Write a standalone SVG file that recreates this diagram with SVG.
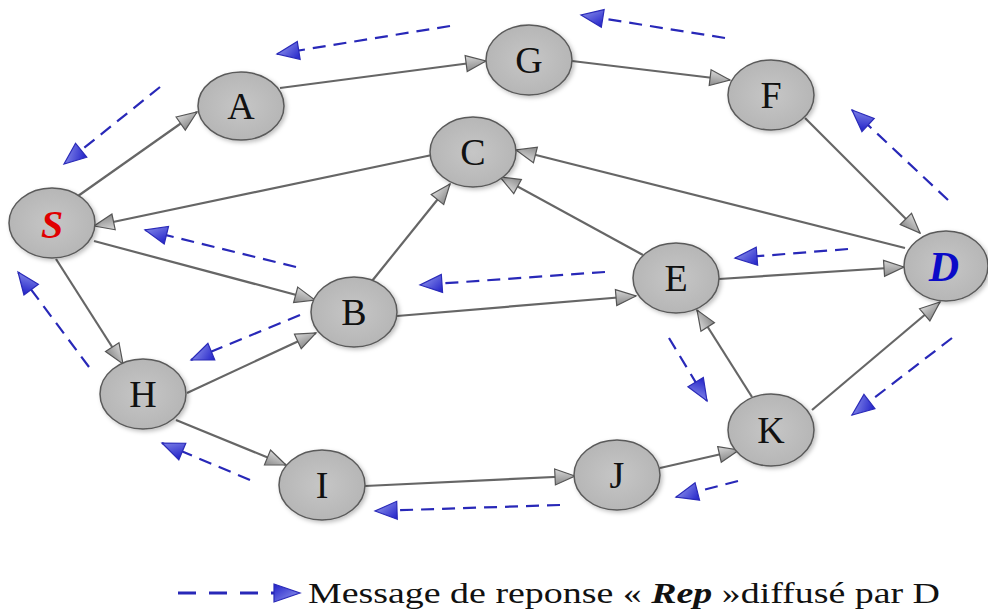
<svg xmlns="http://www.w3.org/2000/svg" width="988" height="613" viewBox="0 0 988 613">
<style>
.node ellipse{fill:url(#ng);stroke:#5a5a5a;stroke-width:1.5;filter:url(#sh)}
.node text{font-family:"Liberation Serif","Times New Roman",serif;font-size:38px;fill:#111;text-anchor:middle}
.edge{stroke:#666;stroke-width:2.2;fill:none;marker-end:url(#ag)}
.msg{stroke:#2828b8;stroke-width:2.2;stroke-dasharray:13 8;fill:none;marker-end:url(#ab)}
.legend{font-family:"Liberation Serif","Times New Roman",serif;font-size:30px;fill:#111}
</style>
<defs>
<radialGradient id="ng" cx="0.5" cy="0.5" r="0.6">
<stop offset="0" stop-color="#c6c6c6"/><stop offset="1" stop-color="#b3b3b3"/>
</radialGradient>
<linearGradient id="gg" x1="0" y1="0" x2="0" y2="1">
<stop offset="0" stop-color="#d8d8d8"/><stop offset="1" stop-color="#8a8a8a"/>
</linearGradient>
<linearGradient id="bg" x1="0" y1="0" x2="1" y2="1">
<stop offset="0" stop-color="#2020c8"/><stop offset="1" stop-color="#9aa0f0"/>
</linearGradient>
<filter id="sh" x="-20%" y="-20%" width="150%" height="150%">
<feDropShadow dx="2" dy="2" stdDeviation="2" flood-color="#000" flood-opacity="0.25"/>
</filter>
<marker id="ag" markerUnits="userSpaceOnUse" markerWidth="24" markerHeight="20" viewBox="0 0 24 20" refX="22" refY="10" orient="auto">
<path d="M2,2 L22,10 L2,18 Z" fill="url(#gg)" stroke="#555" stroke-width="1.2"/>
</marker>
<marker id="ab" markerUnits="userSpaceOnUse" markerWidth="26" markerHeight="22" viewBox="0 0 26 22" refX="24" refY="11" orient="auto">
<path d="M2,2 L24,11 L2,20 Z" fill="url(#bg)" stroke="#2a2ab8" stroke-width="1.2"/>
</marker>
<marker id="abl" markerUnits="userSpaceOnUse" markerWidth="30" markerHeight="24" viewBox="0 0 30 24" refX="28" refY="12" orient="auto">
<path d="M2,3 L28,12 L2,21 Z" fill="url(#bg)" stroke="#2a2ab8" stroke-width="1.2"/>
</marker>
</defs>
<rect width="988" height="613" fill="#fff"/>
<g id="connectors">
<line class="edge" x1="78" y1="196" x2="197" y2="112"/>
<line class="edge" x1="280" y1="88" x2="486" y2="61"/>
<line class="edge" x1="572" y1="61" x2="730" y2="80"/>
<line class="edge" x1="805" y1="118" x2="920" y2="233"/>
<line class="edge" x1="905" y1="248" x2="516" y2="150"/>
<line class="edge" x1="432" y1="155" x2="94" y2="226"/>
<line class="edge" x1="94" y1="241" x2="315" y2="300"/>
<line class="edge" x1="372" y1="281" x2="450" y2="184"/>
<line class="edge" x1="397" y1="316" x2="636" y2="296"/>
<line class="edge" x1="719" y1="279" x2="904" y2="267"/>
<line class="edge" x1="643" y1="255" x2="500" y2="177"/>
<line class="edge" x1="56" y1="259" x2="123" y2="364"/>
<line class="edge" x1="187" y1="393" x2="316" y2="333"/>
<line class="edge" x1="176" y1="420" x2="286" y2="465"/>
<line class="edge" x1="365" y1="486" x2="575" y2="476"/>
<line class="edge" x1="660" y1="468" x2="739" y2="450"/>
<line class="edge" x1="752" y1="397" x2="697" y2="310"/>
<line class="edge" x1="812" y1="410" x2="940" y2="302"/>
</g>
<g id="messages">
<line class="msg" x1="450" y1="26" x2="277" y2="54"/>
<line class="msg" x1="725" y1="38" x2="581" y2="15"/>
<line class="msg" x1="160" y1="87" x2="64" y2="164"/>
<line class="msg" x1="948" y1="200" x2="852" y2="110"/>
<line class="msg" x1="296" y1="267" x2="145" y2="230"/>
<line class="msg" x1="848" y1="249" x2="735" y2="258"/>
<line class="msg" x1="605" y1="272" x2="420" y2="285"/>
<line class="msg" x1="300" y1="315" x2="191" y2="360"/>
<line class="msg" x1="89" y1="367" x2="18" y2="272"/>
<line class="msg" x1="669" y1="338" x2="707" y2="401"/>
<line class="msg" x1="952" y1="338" x2="852" y2="415"/>
<line class="msg" x1="250" y1="480" x2="162" y2="443"/>
<line class="msg" x1="738" y1="481" x2="676" y2="497"/>
<line class="msg" x1="560" y1="505" x2="375" y2="511"/>
</g>
<g id="S" class="node"><ellipse cx="52" cy="223" rx="43" ry="35"/><text x="52" y="238" style="font-weight:bold;font-style:italic;fill:#e00000;font-size:40px">S</text></g>
<g id="A" class="node"><ellipse cx="241" cy="106" rx="43" ry="34"/><text x="241" y="119">A</text></g>
<g id="G" class="node"><ellipse cx="529" cy="60" rx="43" ry="35"/><text x="529" y="73">G</text></g>
<g id="F" class="node"><ellipse cx="771" cy="95" rx="43" ry="35"/><text x="771" y="108">F</text></g>
<g id="C" class="node"><ellipse cx="473" cy="152" rx="43" ry="35"/><text x="473" y="165">C</text></g>
<g id="D" class="node"><ellipse cx="946" cy="266" rx="42" ry="35"/><text x="944" y="281" style="font-weight:bold;font-style:italic;fill:#0a0ac8;font-size:42px">D</text></g>
<g id="E" class="node"><ellipse cx="676" cy="278" rx="43" ry="35"/><text x="676" y="291">E</text></g>
<g id="B" class="node"><ellipse cx="354" cy="312" rx="43" ry="35"/><text x="354" y="325">B</text></g>
<g id="H" class="node"><ellipse cx="143" cy="394" rx="43" ry="35"/><text x="143" y="407">H</text></g>
<g id="I" class="node"><ellipse cx="322" cy="485" rx="43" ry="35"/><text x="322" y="498">I</text></g>
<g id="J" class="node"><ellipse cx="617" cy="475" rx="43" ry="35"/><text x="617" y="488">J</text></g>
<g id="K" class="node"><ellipse cx="771" cy="430" rx="43" ry="36"/><text x="771" y="443">K</text></g>
<g id="legend">
<line x1="178" y1="593" x2="300" y2="593" stroke="#2828b8" stroke-width="3" stroke-dasharray="18 13" marker-end="url(#abl)"/>
<text class="legend" x="308" y="603" textLength="632" lengthAdjust="spacingAndGlyphs">Message de reponse « <tspan font-weight="bold" font-style="italic">Rep</tspan> »diffusé par D</text>
</g>
</svg>
